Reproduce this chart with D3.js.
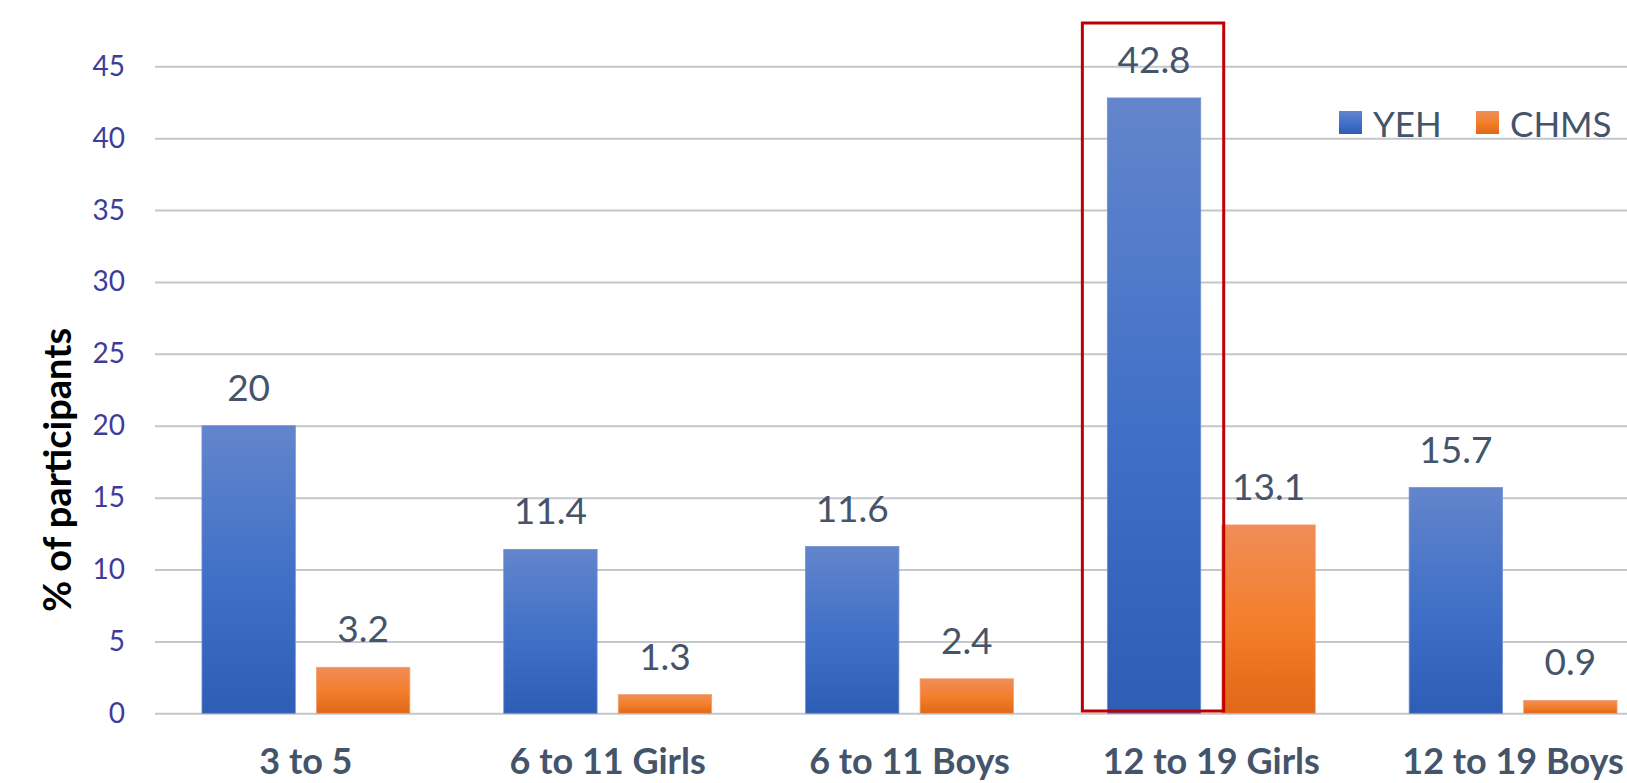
<!DOCTYPE html>
<html><head><meta charset="utf-8">
<script src="https://cdn.jsdelivr.net/npm/d3@7/dist/d3.min.js"></script>
<style>
html,body{margin:0;padding:0;background:#fff;overflow:hidden;}
svg{display:block;}
</style></head>
<body>
<svg id="chart" width="1627" height="783"></svg>
<script>
const categories = ["3 to 5", "6 to 11 Girls", "6 to 11 Boys", "12 to 19 Girls", "12 to 19 Boys"];
const seriesNames = ["YEH", "CHMS"];
const yehValues = [20, 11.4, 11.6, 42.8, 15.7];
const chmsValues = [3.2, 1.3, 2.4, 13.1, 0.9];
const yTicks = [0, 5, 10, 15, 20, 25, 30, 35, 40, 45];
const highlighted = "12 to 19 Girls";
const yTitle = "% of participants";

const svg = d3.select("#chart");
const plotLeft = 155, plotRight = 1664, yZero = 713.3, yTop = 66.3;

const x0 = d3.scaleBand().domain(categories).range([plotLeft, plotRight]).padding(0);
const x1 = d3.scaleBand().domain(seriesNames).range([0, x0.bandwidth()]).paddingInner(0.185).paddingOuter(0.41);
const y = d3.scaleLinear().domain([0, 45]).range([yZero, yTop]);

const defs = svg.append("defs");
const gradDefs = {
  YEH: [["0%", "#6385cc"], ["55%", "#3f6fc7"], ["100%", "#2e5db6"]],
  CHMS: [["0%", "#ef8d58"], ["50%", "#f47f2c"], ["100%", "#e06818"]]
};
seriesNames.forEach(s => {
  const g = defs.append("linearGradient").attr("id", "grad-" + s)
    .attr("x1", 0).attr("y1", 0).attr("x2", 0).attr("y2", 1);
  gradDefs[s].forEach(([o, c]) => g.append("stop").attr("offset", o).attr("stop-color", c));
});
const strokeCol = { YEH: "#6f8fd0", CHMS: "#f0a070" };

// grid + y axis
const yAxis = d3.axisLeft(y).tickValues(yTicks).tickSizeInner(-(1627 - plotLeft)).tickSizeOuter(0).tickPadding(30);
const ga = svg.append("g").attr("transform", `translate(${plotLeft},0)`).call(yAxis);
ga.select(".domain").remove();
ga.selectAll(".tick line").attr("stroke", "#c4c6cb").attr("stroke-width", 2);
ga.selectAll(".tick text").attr("fill", "#3d3d99").style("font-family", "Lato, sans-serif").style("font-size", "28px");

// data rows
const rows = categories.map((c, i) => ({ cat: c, YEH: yehValues[i], CHMS: chmsValues[i] }));

const groups = svg.append("g").selectAll("g").data(rows).join("g")
  .attr("transform", d => `translate(${x0(d.cat)},0)`);

groups.selectAll("rect").data(d => seriesNames.map(s => ({ s, v: d[s] }))).join("rect")
  .attr("x", d => x1(d.s))
  .attr("y", d => y(d.v))
  .attr("width", x1.bandwidth())
  .attr("height", d => y(0) - y(d.v))
  .attr("fill", d => `url(#grad-${d.s})`)
  .attr("stroke", d => strokeCol[d.s]).attr("stroke-width", 0.8);

groups.selectAll("text.val").data(d => seriesNames.map(s => ({ s, v: d[s] }))).join("text")
  .attr("class", "val")
  .attr("x", d => x1(d.s) + x1.bandwidth() / 2)
  .attr("y", d => y(d.v) - 25)
  .attr("text-anchor", "middle")
  .attr("fill", "#44546a")
  .style("font-family", "Lato, sans-serif").style("font-size", "37px")
  .text(d => d.v);

// category labels
svg.append("g").selectAll("text").data(categories).join("text")
  .attr("x", d => x0(d) + x0.bandwidth() / 2)
  .attr("y", 774)
  .attr("text-anchor", "middle")
  .attr("fill", "#44546a")
  .style("font-family", "Lato, sans-serif").style("font-weight", "bold").style("font-size", "36px")
  .text(d => d);

// highlight box
const hx = x0(highlighted) + x1("YEH");
svg.append("rect")
  .attr("x", hx - 25).attr("y", 23)
  .attr("width", x1.bandwidth() + 48).attr("height", 711 - 23)
  .attr("fill", "none").attr("stroke", "#c00000").attr("stroke-width", 3);

// y title
svg.append("text")
  .attr("transform", "translate(71,470) rotate(-90)")
  .attr("text-anchor", "middle")
  .attr("fill", "#000")
  .style("font-family", "Lato, sans-serif").style("font-weight", "bold").style("font-size", "38px")
  .text(yTitle);

// legend
const legendX = { YEH: 1339, CHMS: 1476 };
const lg = svg.append("g");
seriesNames.forEach(s => {
  lg.append("rect").attr("x", legendX[s]).attr("y", 111).attr("width", 23).attr("height", 23)
    .attr("fill", `url(#grad-${s})`);
  lg.append("text").attr("x", legendX[s] + 34).attr("y", 137)
    .attr("fill", "#44546a")
    .style("font-family", "Lato, sans-serif").style("font-size", "35px")
    .text(s);
});
</script>
</body></html>
